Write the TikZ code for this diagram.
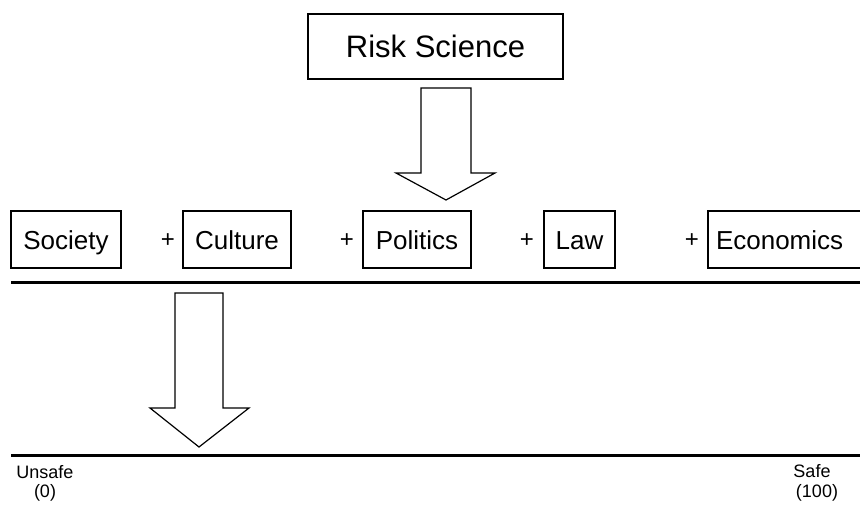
\documentclass[tikz,border=0pt]{standalone}
\usepackage{fontspec}
\setmainfont{Liberation Sans}
\begin{document}
\begin{tikzpicture}[x=1pt,y=-1pt,
  boxnode/.style={draw,line width=1.2pt,minimum height=57pt,inner sep=0pt,text height=24pt,text depth=5pt,font=\fontsize{26}{30}\selectfont},
  plus/.style={inner sep=0pt,font=\fontsize{24}{28}\selectfont},
  fatarrow/.style={draw,line width=1.2pt,fill=white,line join=miter},
  scaleline/.style={line width=3pt},
  endlabel/.style={inner sep=0pt,align=center,font=\fontsize{18}{21}\selectfont}]
\useasboundingbox (0,0) rectangle (860,508);
% top box
\node[boxnode,minimum width=255pt,minimum height=65pt,text height=28pt,text depth=6pt,font=\fontsize{31}{36}\selectfont] (risk) at (435.5,46.5) {Risk Science};
% row
\node[boxnode,minimum width=110pt] (society) at (66,239.5) {Society};
\node[boxnode,minimum width=108pt] (culture) at (237,239.5) {Culture};
\node[boxnode,minimum width=108pt] (politics) at (417,239.5) {Politics};
\node[boxnode,minimum width=71pt] (law) at (579.5,239.5) {Law};
\node[boxnode,minimum width=156pt,text width=140pt,align=left] (economics) at (786,239.5) {Economics};
\node[plus] (p1) at (168,241) {+};
\node[plus] (p2) at (347,241) {+};
\node[plus] (p3) at (527,241) {+};
\node[plus] (p4) at (692,241) {+};
% lines
\coordinate (l1a) at (11,282.5);
\coordinate (l1b) at (860,282.5);
\draw[scaleline] (l1a) -- (l1b);
\coordinate (l2a) at (11,455);
\coordinate (l2b) at (860,455);
\draw[scaleline] (l2a) -- (l2b);
% arrow 1 (Risk Science -> Politics)
\coordinate (a1) at (446,88);
\draw[fatarrow] (a1) ++(-25,0) -- ++(0,85) -- ++(-25,0) -- ++(50,27) -- ++(49,-27)
  -- ++(-24,0) -- ++(0,-85) -- cycle;
% arrow 2 (Culture -> scale)
\coordinate (a2) at (199,293);
\draw[fatarrow] (a2) ++(-24,0) -- ++(0,115) -- ++(-25,0) -- ++(49,39) -- ++(50,-39)
  -- ++(-26,0) -- ++(0,-115) -- cycle;
% end labels
\node[endlabel] (unsafe) at (45,472) {Unsafe};
\node[endlabel] (zero) at (45,493) {(0)};
\node[endlabel] (safe) at (812,471) {Safe};
\node[endlabel] (hundred) at (817,493) {(100)};
\end{tikzpicture}
\end{document}
